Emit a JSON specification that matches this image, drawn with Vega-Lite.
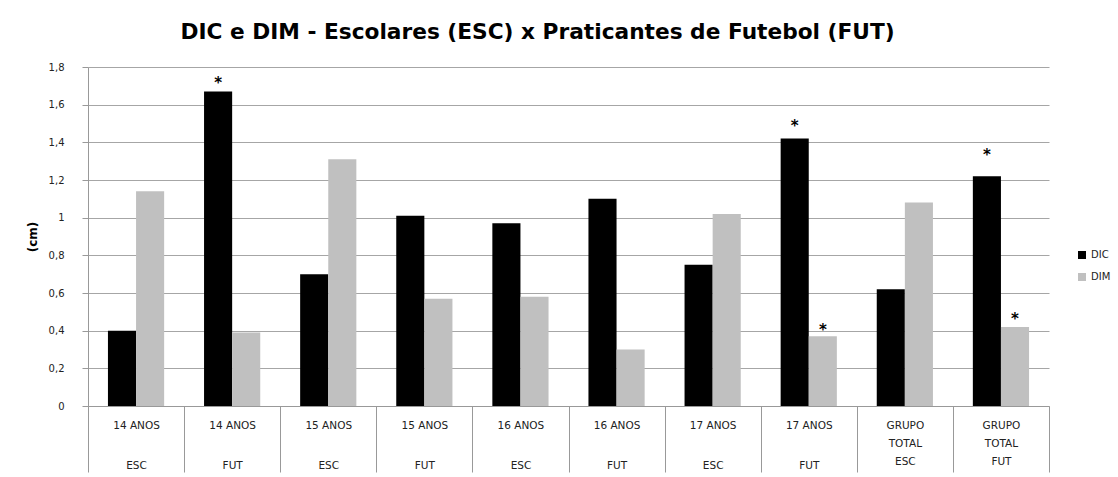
{
  "$schema": "https://vega.github.io/schema/vega-lite/v6.json",
  "width": 961,
  "height": 339,
  "autosize": {"type": "none"},
  "padding": {"left": 88, "top": 67, "right": 69, "bottom": 71},
  "background": "white",
  "title": {
    "text": "DIC e DIM - Escolares (ESC) x Praticantes de Futebol (FUT)",
    "font": "DejaVu Sans",
    "fontSize": 21.7,
    "fontWeight": "bold",
    "color": "#000000",
    "anchor": "middle",
    "frame": "group",
    "dx": -31,
    "baseline": "alphabetic",
    "offset": 1
  },
  "config": {
    "view": {"stroke": null},
    "axis": {"labelFont": "DejaVu Sans", "titleFont": "DejaVu Sans"}
  },
  "encoding": {
    "x": {
      "field": "cat",
      "type": "nominal",
      "sort": null,
      "scale": {
        "domain": ["14 ANOS|ESC", "14 ANOS|FUT", "15 ANOS|ESC", "15 ANOS|FUT", "16 ANOS|ESC", "16 ANOS|FUT", "17 ANOS|ESC", "17 ANOS|FUT", "GRUPO TOTAL|ESC", "GRUPO TOTAL|FUT"],
        "paddingInner": 0,
        "paddingOuter": 0
      },
      "axis": {
        "title": null,
        "tickBand": "extent",
        "tickSize": 66,
        "tickColor": "#999999",
        "domainColor": "#999999",
        "labelAngle": 0,
        "labelBaseline": "top",
        "labelPadding": -52,
        "labelFontSize": 10.5,
        "labelColor": "#222222",
        "labelOverlap": false,
        "labelFlush": false,
        "labelBound": false,
        "labelLineHeight": {"expr": "isString(datum.value) && indexof(datum.value, 'GRUPO') >= 0 ? 18 : 40"},
        "labelExpr": "isString(datum.value) ? (split(datum.value,'|')[0] == 'GRUPO TOTAL' ? ['GRUPO', 'TOTAL', split(datum.value,'|')[1]] : split(datum.value,'|')) : ''"
      }
    },
    "xOffset": {"field": "serie", "type": "nominal", "scale": {"domain": ["DIC", "DIM"], "paddingInner": 0, "paddingOuter": 0.71}},
    "y": {
      "field": "valor",
      "type": "quantitative",
      "scale": {"domain": [0, 1.8], "nice": false},
      "axis": {
        "title": "(cm)",
        "titleFontSize": 12,
        "titleFontWeight": "bold",
        "titleColor": "#000000",
        "titleAngle": -90,
        "titleX": -56,
        "titleY": 169.5,
        "titleAlign": "center",
        "titleBaseline": "middle",
        "values": [0, 0.2, 0.4, 0.6, 0.8, 1, 1.2, 1.4, 1.6, 1.8],
        "labelOverlap": false,
        "labelExpr": "replace(format(datum.value, '.1~f'), '.', ',')",
        "labelFontSize": 10,
        "labelColor": "#222222",
        "labelPadding": 18,
        "tickSize": 6,
        "tickColor": "#999999",
        "domainColor": "#999999",
        "gridColor": "#a6a6a6",
        "gridWidth": 1
      }
    }
  },
  "layer": [
    {
      "data": {
        "values": [
          {"cat": "14 ANOS|ESC", "serie": "DIC", "valor": 0.40},
          {"cat": "14 ANOS|ESC", "serie": "DIM", "valor": 1.14},
          {"cat": "14 ANOS|FUT", "serie": "DIC", "valor": 1.67},
          {"cat": "14 ANOS|FUT", "serie": "DIM", "valor": 0.39},
          {"cat": "15 ANOS|ESC", "serie": "DIC", "valor": 0.70},
          {"cat": "15 ANOS|ESC", "serie": "DIM", "valor": 1.31},
          {"cat": "15 ANOS|FUT", "serie": "DIC", "valor": 1.01},
          {"cat": "15 ANOS|FUT", "serie": "DIM", "valor": 0.57},
          {"cat": "16 ANOS|ESC", "serie": "DIC", "valor": 0.97},
          {"cat": "16 ANOS|ESC", "serie": "DIM", "valor": 0.58},
          {"cat": "16 ANOS|FUT", "serie": "DIC", "valor": 1.10},
          {"cat": "16 ANOS|FUT", "serie": "DIM", "valor": 0.30},
          {"cat": "17 ANOS|ESC", "serie": "DIC", "valor": 0.75},
          {"cat": "17 ANOS|ESC", "serie": "DIM", "valor": 1.02},
          {"cat": "17 ANOS|FUT", "serie": "DIC", "valor": 1.42},
          {"cat": "17 ANOS|FUT", "serie": "DIM", "valor": 0.37},
          {"cat": "GRUPO TOTAL|ESC", "serie": "DIC", "valor": 0.62},
          {"cat": "GRUPO TOTAL|ESC", "serie": "DIM", "valor": 1.08},
          {"cat": "GRUPO TOTAL|FUT", "serie": "DIC", "valor": 1.22},
          {"cat": "GRUPO TOTAL|FUT", "serie": "DIM", "valor": 0.42}
        ]
      },
      "mark": {"type": "bar"},
      "encoding": {
        "color": {
          "field": "serie",
          "type": "nominal",
          "scale": {"domain": ["DIC", "DIM"], "range": ["#000000", "#c0c0c0"]},
          "legend": {
            "orient": "none",
            "legendX": 989,
            "legendY": 183,
            "title": null,
            "symbolType": "square",
            "symbolSize": 64,
            "symbolStrokeWidth": 0,
            "labelFont": "DejaVu Sans",
            "labelFontSize": 10,
            "labelColor": "#222222",
            "rowPadding": 12,
            "padding": 0
          }
        }
      }
    },
    {
      "data": {
        "values": [
          {"cat": "14 ANOS|FUT", "serie": "DIC", "valor": 1.738, "marca": "*"},
          {"cat": "17 ANOS|FUT", "serie": "DIC", "valor": 1.508, "marca": "*"},
          {"cat": "17 ANOS|FUT", "serie": "DIM", "valor": 0.424, "marca": "*"},
          {"cat": "GRUPO TOTAL|FUT", "serie": "DIC", "valor": 1.354, "marca": "*"},
          {"cat": "GRUPO TOTAL|FUT", "serie": "DIM", "valor": 0.483, "marca": "*"}
        ]
      },
      "mark": {"type": "text", "font": "DejaVu Sans", "fontSize": 15, "fontWeight": "bold", "baseline": "middle", "dy": 4, "color": "#000000"},
      "encoding": {
        "text": {"field": "marca"}
      }
    }
  ]
}
